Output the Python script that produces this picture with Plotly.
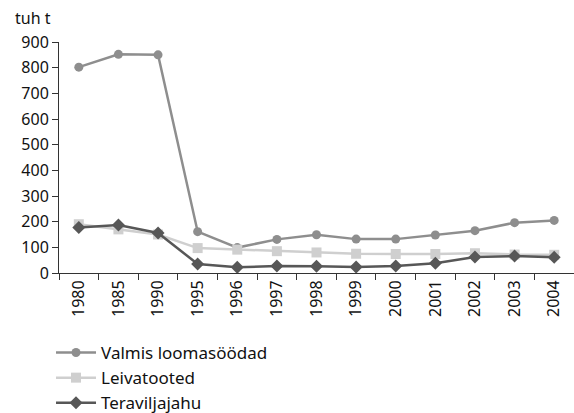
import plotly.graph_objects as go

years = ["1980", "1985", "1990", "1995", "1996", "1997", "1998", "1999", "2000", "2001", "2002", "2003", "2004"]
valmis = [802, 852, 850, 161, 99, 131, 149, 132, 132, 148, 165, 196, 205]
leiva = [190, 170, 150, 97, 91, 85, 80, 75, 74, 74, 77, 72, 71]
terav = [177, 187, 156, 35, 22, 27, 26, 23, 27, 38, 62, 66, 61]

font = "Noto Sans"
fig = go.Figure()
fig.add_trace(go.Scatter(x=years, y=valmis, name="Valmis loomasöödad", mode="lines+markers",
                         legendgroup="a",
                         line=dict(color="#8e8e8e", width=2.5),
                         marker=dict(symbol="circle", size=9, color="#8e8e8e")))
fig.add_trace(go.Scatter(x=years, y=leiva, name="Leivatooted", mode="lines+markers",
                         legendgroup="b",
                         line=dict(color="#cfcfcf", width=2.5),
                         marker=dict(symbol="square", size=10, color="#cfcfcf")))
fig.add_trace(go.Scatter(x=years, y=terav, name="Teraviljajahu", mode="lines+markers",
                         legendgroup="c",
                         line=dict(color="#575757", width=2.5),
                         marker=dict(symbol="diamond", size=10, color="#575757")))

fig.update_layout(
    width=574, height=413,
    margin=dict(l=59, r=0, t=42, b=140, autoexpand=False),
    paper_bgcolor="white", plot_bgcolor="white",
    font=dict(family=font, size=16, color="#111"),
    showlegend=True,
    legend=dict(x=-0.0155, xanchor="left", yref="container", y=1 - 335 / 413, yanchor="top",
                font=dict(size=17), tracegroupgap=0, itemwidth=40, bgcolor="rgba(0,0,0,0)"),
    xaxis=dict(type="category", range=[-0.5, 12.5], tickson="boundaries", ticks="outside",
               ticklen=6, tickcolor="#333", showline=True, linecolor="#333", linewidth=1,
               tickangle=-90, showgrid=False, tickfont=dict(size=16), automargin=False),
    yaxis=dict(range=[0, 900], dtick=100, ticks="outside", ticklen=6, tickcolor="#333",
               showline=True, linecolor="#333", linewidth=1, showgrid=False, zeroline=False,
               tickfont=dict(size=16), automargin=False),
    annotations=[dict(text="tuh t", xref="paper", yref="paper", x=0, xshift=-46,
                      y=1 + (42 - 18) / 231, xanchor="left", yanchor="middle",
                      showarrow=False, font=dict(size=16))],
)
fig.write_html("out.html", config={"displayModeBar": False},
               post_script="document.body.style.margin='0';")
